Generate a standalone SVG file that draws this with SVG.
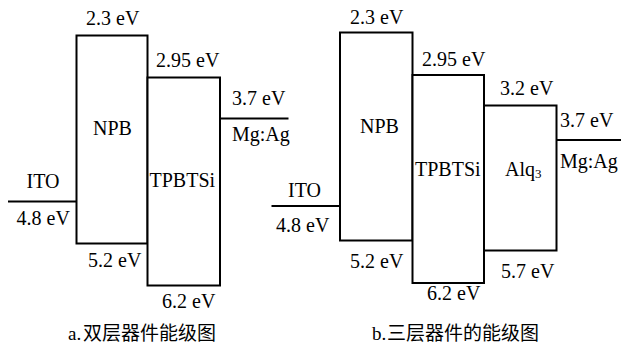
<svg xmlns="http://www.w3.org/2000/svg" width="621" height="345" viewBox="0 0 621 345" font-family="Liberation Serif, Times New Roman, serif" font-size="20">
<style>
.box{fill:#fff;stroke:#000;stroke-width:2}
.ln{stroke:#000;stroke-width:2;fill:none}
.cap{font-size:19px}
.cjk{font-family:"Noto Sans CJK SC",sans-serif;font-size:19px}
.sub{font-size:13px}
</style>
<rect width="621" height="345" fill="#fff"/>
<g id="diagram-a">
  <g id="a-connectors">
    <line class="ln" x1="8" y1="201.5" x2="76.5" y2="201.5"/>
    <line class="ln" x1="220" y1="118.5" x2="288.5" y2="118.5"/>
  </g>
  <g id="a-NPB">
    <rect class="box" x="76.5" y="35.5" width="71" height="208"/>
    <text x="93" y="135">NPB</text>
    <text x="86" y="25">2.3 eV</text>
    <text x="88" y="267">5.2 eV</text>
  </g>
  <g id="a-TPBTSi">
    <rect class="box" x="147.5" y="77.5" width="72.5" height="208"/>
    <text x="149.5" y="187">TPBTSi</text>
    <text x="156" y="67">2.95 eV</text>
    <text x="162" y="308">6.2 eV</text>
  </g>
  <g id="a-ITO">
    <text x="26.5" y="188">ITO</text>
    <text x="16.5" y="225">4.8 eV</text>
  </g>
  <g id="a-MgAg">
    <text x="232" y="105">3.7 eV</text>
    <text x="232" y="141">Mg:Ag</text>
  </g>
  <text class="cap" x="68" y="340">a.<tspan class="cjk" x="83">双层器件能级图</tspan></text>
</g>
<g id="diagram-b">
  <g id="b-connectors">
    <line class="ln" x1="271.5" y1="206" x2="340" y2="206"/>
    <line class="ln" x1="556.5" y1="140" x2="621" y2="140"/>
  </g>
  <g id="b-NPB">
    <rect class="box" x="340" y="32.5" width="72.5" height="208"/>
    <text x="360" y="133">NPB</text>
    <text x="350" y="23.5">2.3 eV</text>
    <text x="350" y="268">5.2 eV</text>
  </g>
  <g id="b-TPBTSi">
    <rect class="box" x="412.5" y="75" width="71.5" height="208"/>
    <text x="415" y="176">TPBTSi</text>
    <text x="422" y="66">2.95 eV</text>
    <text x="427" y="300">6.2 eV</text>
  </g>
  <g id="b-Alq3">
    <rect class="box" x="484" y="105.5" width="72.5" height="145"/>
    <text x="505" y="176">Alq<tspan class="sub" dy="2">3</tspan></text>
    <text x="500" y="95">3.2 eV</text>
    <text x="501" y="278">5.7 eV</text>
  </g>
  <g id="b-ITO">
    <text x="288" y="197">ITO</text>
    <text x="276" y="232">4.8 eV</text>
  </g>
  <g id="b-MgAg">
    <text x="560" y="127">3.7 eV</text>
    <text x="560" y="168">Mg:Ag</text>
  </g>
  <text class="cap" x="372" y="340">b.<tspan class="cjk" x="387">三层器件的能级图</tspan></text>
</g>
</svg>
